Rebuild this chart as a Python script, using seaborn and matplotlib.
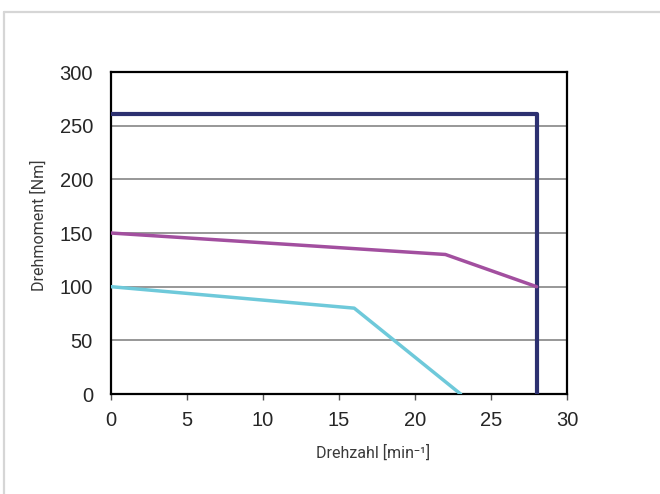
import matplotlib
matplotlib.use("Agg")
import matplotlib.pyplot as plt
from matplotlib.lines import Line2D
import seaborn as sns
import pandas as pd

# torque curves
navy_x = [0, 28, 28]
navy_y = [261, 261, 0]
purple_x = [0, 22, 28]
purple_y = [150, 130, 100]
cyan_x = [0, 16, 23]
cyan_y = [100, 80, 0]

x_ticks = [0, 5, 10, 15, 20, 25, 30]
y_ticks = [0, 50, 100, 150, 200, 250, 300]

df = pd.concat([
    pd.DataFrame({"n": navy_x, "M": navy_y, "curve": "max"}),
    pd.DataFrame({"n": purple_x, "M": purple_y, "curve": "mid"}),
    pd.DataFrame({"n": cyan_x, "M": cyan_y, "curve": "low"}),
], ignore_index=True)

sns.set_style("white")
plt.rcParams["font.family"] = ["Liberation Sans", "DejaVu Sans"]

fig = plt.figure(figsize=(6.6, 4.94), dpi=100)
ax = fig.add_axes([0.1682, 0.2024, 0.6909, 0.6518])

palette = {"max": "#2c3070", "mid": "#a24f9f", "low": "#6ec9da"}
sizes = {"max": 3.0, "mid": 2.5, "low": 2.5}
sns.lineplot(data=df, x="n", y="M", hue="curve", size="curve", sizes=sizes,
             palette=palette, estimator=None, sort=False, legend=False, ax=ax,
             zorder=3)

ax.set_xlim(0, 30)
ax.set_ylim(0, 300)
ax.set_xticks(x_ticks)
ax.set_yticks(y_ticks)
ax.yaxis.grid(True, color="#7a7a7a", linewidth=1.1)
ax.xaxis.grid(False)
for s in ax.spines.values():
    s.set_color("black")
    s.set_linewidth(1.6)
    s.set_visible(True)

ax.tick_params(axis="x", direction="out", length=4, width=1, color="#555555",
               labelsize=14.5, pad=8, bottom=True)
ax.tick_params(axis="y", length=0, labelsize=14.5, pad=13, left=False)

lab_font = ["Roboto", "DejaVu Sans"]
ax.set_xlabel("Drehzahl [min⁻¹]", fontsize=11.5, family=lab_font,
              fontweight="normal", color="#3a3a3a")
ax.set_ylabel("Drehmoment [Nm]", fontsize=11.5, family=lab_font,
              fontweight="normal", color="#3a3a3a")
ax.xaxis.set_label_coords(0.575, -0.158)
ax.yaxis.set_label_coords(-0.14, 0.525)

# thin grey frame of the source page
fig.add_artist(Line2D([4 / 660, 4 / 660], [0, 1 - 12 / 494],
                      color="#d6d6d6", linewidth=1.6, transform=fig.transFigure))
fig.add_artist(Line2D([4 / 660, 1], [1 - 12 / 494, 1 - 12 / 494],
                      color="#d6d6d6", linewidth=1.6, transform=fig.transFigure))

fig.savefig("out.png", dpi=100)
